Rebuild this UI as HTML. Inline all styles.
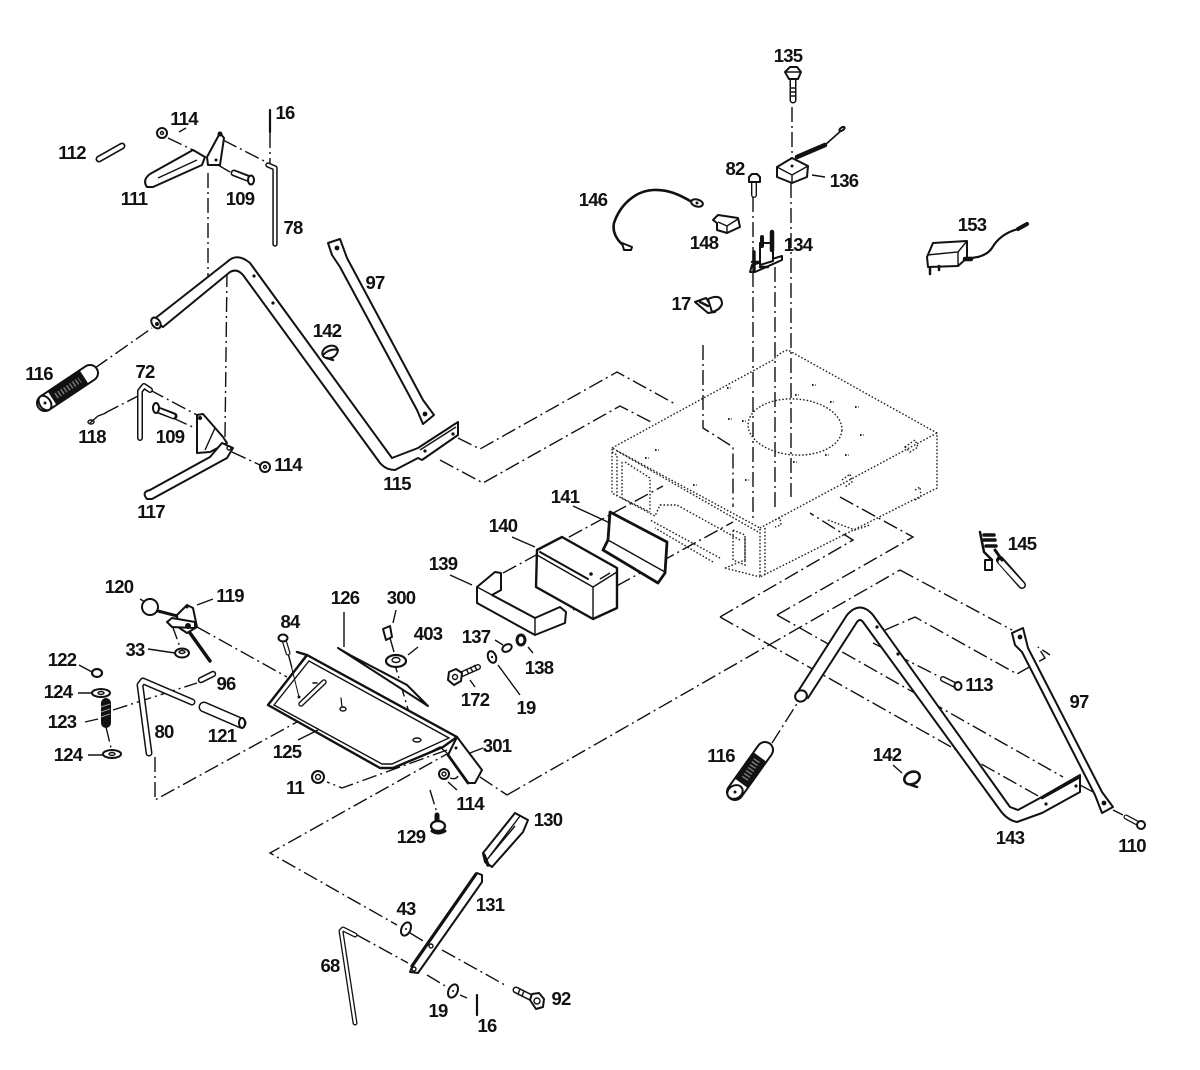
<!DOCTYPE html>
<html><head><meta charset="utf-8"><style>
html,body{margin:0;padding:0;background:#fff}
svg{display:block}
text{font-family:"Liberation Sans Narrow","Liberation Sans",sans-serif;font-weight:700;font-size:18.5px;letter-spacing:-.8px;fill:#111;text-anchor:middle}
.d{fill:none;stroke:#111;stroke-width:1.4;stroke-dasharray:15 4 2 4}
.o{fill:none;stroke:#222;stroke-width:1.4;stroke-dasharray:1.6 1.9}
.p{fill:#fff;stroke:#111;stroke-width:2;stroke-linejoin:round}
.n{fill:none;stroke:#111;stroke-width:1.4}
.k{fill:none;stroke:#111;stroke-linecap:round;stroke-linejoin:round}
.w{fill:none;stroke:#fff;stroke-linecap:round;stroke-linejoin:round}
.b{fill:#111;stroke:none}
</style></head><body>
<svg width="1200" height="1070" viewBox="0 0 1200 1070" xmlns="http://www.w3.org/2000/svg">
<rect width="1200" height="1070" fill="#fff"/>
<!-- chassis -->
<g class="o">
<path d="M612 448L773 360Q780 352 788 350L937 433V488L760 577V528L612 448V493L655 516L660 505L677 505L740 540"/>
<path d="M617 451L760 533M937 433L760 528M765 528V575M612 452L617 455V498M622 462V498L650 512M625 462L650 478L650 510"/>
<path d="M745 538V560L725 568M733 530L745 535V565L733 560ZM725 568L760 577"/>
<path d="M720 558L650 520M713 562L655 528"/>
<path d="M828 520L855 530L870 525"/>
<ellipse cx="795" cy="427" rx="47" ry="28" transform="rotate(4 795 427)"/>
<path d="M905 447L915 440L918 447L910 452ZM842 480L850 474L852 482L845 487M915 490L920 487L921 497L915 500M775 520L780 518L781 525L775 527"/>
</g>
<g class="o" style="stroke-width:2">
<path d="M728 419h4M742 421h4M727 388h4M812 385h4M795 395h4M830 402h4M855 407h4M825 455h4M860 435h4M793 462h4M745 480h4M845 455h4M693 485h4M645 458h4M655 450h4"/>
</g>
<!-- dash-dot connectors -->
<g class="d">
<path d="M458 438L480 449L617 372L677 405"/>
<path d="M440 460L483 483L620 406L653 423"/>
<path d="M703 345V428L733 447V507"/>
<path d="M753 197V518M775 267V507M792 107V158M791 183V497"/>
<path d="M503 573L663 486M573 610L733 522"/>
<path d="M720 617L853 540L810 513M777 615L913 537L840 497"/>
<path d="M900 570L1012 630M720 617L1040 797M777 615L1063 777"/>
<path d="M507 795L900 570M480 777L507 795"/>
<path d="M885 630L915 617L1017 674L1045 658L1038 647L1050 655M873 643L940 677"/>
<path d="M1080 785L1095 793M1113 810L1123 815M772 743L798 702"/>
<path d="M208 173V277M227 272L225 437M223 140L268 163M270 133V163M168 138L193 150M218 165L230 172M95 368L152 328M105 413L140 395M150 390L197 415M173 418L195 428M232 452L260 465"/>
<path d="M155 757V800L337 700M113 710L197 683M197 627L287 677M393 658L417 740M447 750L342 788L327 782"/>
<path d="M288 653L300 698M454 750L270 853L397 925M410 933L425 942M442 950L505 985M357 935L408 963M427 975L447 987M460 995L467 998M430 790L437 813M106 727L111 748M172 625L180 647"/>
</g>
<!-- lever 111 -->
<path class="p" d="M147 187Q142 180 150 174L193 150L205 157L202 165L153 187Z"/>
<path class="n" d="M158 178L197 160"/>
<path class="p" d="M220 133L207 157L208 165L220 165L224 138Z"/><circle class="b" cx="220" cy="134" r="2.5"/><circle class="b" cx="216" cy="160" r="1.5"/>
<g class="k"><path d="M99 159L122 146" stroke-width="7"/></g><g class="w"><path d="M99 159L122 146" stroke-width="3.6"/></g>
<ellipse class="p" cx="162" cy="133" rx="5" ry="5"/><circle class="n" cx="162" cy="133" r="1.5"/>
<path class="k" d="M234 173L250 179" stroke-width="7"/><path class="w" d="M234 173L249 179" stroke-width="3.6"/><ellipse class="p" cx="251" cy="180" rx="3" ry="4.5"/>
<path class="k" d="M270 110V132" stroke-width="2.2"/>
<path class="k" d="M268 165L275 168V244" stroke-width="5.4"/><path class="w" d="M268 165L275 168V244" stroke-width="2.4"/>
<!-- tube 115 -->
<path class="p" d="M153 320L227 262Q237 252 250 263L392 458L418 448L458 422V435L422 460L418 458L395 470Q386 470 380 463L243 275Q237 268 230 272L163 327Z"/>
<ellipse class="p" cx="156" cy="323" rx="4" ry="6" transform="rotate(-35 156 323)"/><circle class="b" cx="157" cy="324" r="2"/>
<path class="n" d="M420 450L456 427"/><circle class="b" cx="254" cy="276" r="1.6"/><circle class="b" cx="273" cy="303" r="1.6"/><circle class="b" cx="453" cy="434" r="1.6"/><circle class="b" cx="425" cy="451" r="1.6"/>
<!-- 97 left -->
<path class="p" d="M328 243L340 239L347 258L423 400L434 415L423 424L417 410L340 267L332 255Z"/><circle class="b" cx="337" cy="248" r="2.4"/><circle class="b" cx="425" cy="414" r="2.4"/>
<!-- 142 left -->
<ellipse class="p" cx="330" cy="352" rx="8" ry="6" transform="rotate(-25 330 352)"/><path class="k" d="M323 355Q330 348 338 350" stroke-width="2"/><path class="k" d="M327 358L333 360" stroke-width="2.5"/>
<!-- 116 left grip -->
<path class="k" d="M45 403L90 373" stroke-width="18"/><path class="w" d="M45 403L90 373" stroke-width="14"/>
<path d="M52 398L84 377" fill="none" stroke="#111" stroke-width="16"/><path d="M56 396L80 380" fill="none" stroke="#777" stroke-width="6" stroke-dasharray="1.5 2"/>
<ellipse class="p" cx="45" cy="403" rx="5.5" ry="8" transform="rotate(-35 45 403)"/><circle class="b" cx="45" cy="403" r="1.5"/>
<!-- 72, 118, 109, 117 -->
<path class="k" d="M140 438V391L144 386L150 390" stroke-width="6"/><path class="w" d="M140 438V391L144 386L150 390" stroke-width="3"/>
<path class="n" d="M90 423L98 416L106 413"/><ellipse class="n" cx="91" cy="422" rx="3" ry="2"/>
<path class="k" d="M158 410L174 416" stroke-width="7"/><path class="w" d="M158 410L173 416" stroke-width="3.6"/><ellipse class="p" cx="156" cy="408" rx="3" ry="5"/>
<path class="p" d="M197 415L203 414L223 437L227 443L210 452L197 453Z"/><circle class="b" cx="200" cy="418" r="2"/><path class="n" d="M215 428L205 450"/>
<path class="p" d="M147 499Q141 492 150 490L210 457L222 443L233 448L227 458L152 499Z"/><circle class="n" cx="229" cy="448" r="2"/>
<ellipse class="p" cx="265" cy="467" rx="5" ry="5"/><circle class="n" cx="265" cy="467" r="1.5"/>
<!-- 135 -->
<path class="k" d="M793 80V100" stroke-width="7"/><path class="w" d="M793 80V100" stroke-width="4"/><path class="p" d="M785 72L790 67H797L801 72L798 79H789Z"/><path class="n" d="M786 72h14M790 88h5M790 92h5M790 96h5"/>
<!-- 136 -->
<path class="k" d="M797 157L825 145" stroke-width="4.5"/><path class="k" d="M825 145L843 129" stroke-width="1.6"/><ellipse class="p" cx="842" cy="129" rx="3" ry="1.5" transform="rotate(-35 842 129)"/>
<path class="p" d="M777 167L792 158L808 166L807 177L792 183L777 177Z"/><path class="n" d="M777 167L792 175L808 166M792 175V183"/><circle class="b" cx="792" cy="166" r="1.5"/>
<!-- 82 -->
<path class="k" d="M754 182V195" stroke-width="6"/><path class="w" d="M754 182V195" stroke-width="3.2"/><path class="p" d="M749 177L752 174H757L760 177V182H749Z"/>
<!-- 146 -->
<path class="k" d="M692 202C680 195 668 189 653 190C635 191 620 205 614 223C612 232 617 240 623 245" stroke-width="2.6"/>
<ellipse class="p" cx="697" cy="203" rx="6" ry="3.5" transform="rotate(15 697 203)"/><circle class="b" cx="697" cy="203" r="1.5"/>
<path class="p" d="M622 243L632 247L631 250L624 250Z"/>
<!-- 148 -->
<path class="p" d="M713 220L718 215L738 218L740 227L727 233L717 230L717 223Z"/><path class="n" d="M718 222L727 226L738 219M727 226V233"/>
<!-- 134 -->
<path class="p" d="M750 272L752 265L782 256L782 260L755 272Z"/>
<path class="p" d="M760 243H773V261L760 265Z"/><path class="k" d="M772 232V250" stroke-width="4.5"/><path class="k" d="M762 237V246" stroke-width="4"/><path class="k" d="M754 252V270" stroke-width="3.4"/><path class="k" d="M752 262h8M760 267h8" stroke-width="2.4"/>
<!-- 17 -->
<path class="p" d="M695 302L706 298L715 312L708 313Z"/><path class="p" d="M708 299Q722 293 722 304Q720 310 712 312Z"/><path class="k" d="M700 302L708 306" stroke-width="2.4"/>
<!-- 153 -->
<path class="k" d="M968 258Q985 258 992 248Q1000 234 1018 229" stroke-width="2.2"/><path class="k" d="M1018 229L1027 224" stroke-width="4"/>
<path class="p" d="M927 257L933 243L967 241V258L958 266L928 267Z"/><path class="n" d="M927 255L958 252L967 241M958 252V266"/><path class="k" d="M930 268V274M939 266V270" stroke-width="2.5"/><path class="k" d="M965 259h6" stroke-width="4.5"/>
<!-- 145 -->
<path class="k" d="M1000 560L1022 585" stroke-width="8"/><path class="w" d="M1001 562L1022 585" stroke-width="5"/>
<path class="k" d="M980 532L984 552L992 560" stroke-width="2.5"/><path class="k" d="M984 535h10M984 540h11M986 546h10" stroke-width="3.5"/><path class="k" d="M995 550L1002 560" stroke-width="3"/><rect class="p" x="985" y="560" width="7" height="10"/>
<!-- 139 -->
<path class="p" d="M477 587L495 572L501 573V590L492 595L535 618L560 607L566 612L565 623L535 635L477 603Z"/><path class="n" d="M477 587L535 618V635"/>
<!-- 140 -->
<path class="p" d="M537 550L562 537L617 568V608L593 619L536 587Z" style="stroke-width:2.4"/><path class="n" d="M537 555L593 587L617 572M593 587V619M600 579L610 573"/><path class="k" d="M540 552L588 579" stroke-width="2"/><circle class="b" cx="591" cy="574" r="1.8"/>
<!-- 141 -->
<path class="p" d="M610 512L667 542L665 573L658 583L603 550L608 540Z" style="stroke-width:2.8"/><path class="n" d="M608 540L665 572"/>
<!-- 120/119 -->
<circle class="p" cx="150" cy="607" r="8"/><path class="k" d="M158 611L185 618" stroke-width="3"/>
<path class="k" d="M190 633L210 661" stroke-width="3.5"/>
<path class="p" d="M177 615L187 605L193 608L197 627L187 633L178 627Z"/><path class="p" d="M167 622L172 618L195 622L195 628L172 627Z"/><circle class="b" cx="188" cy="626" r="3"/><circle class="b" cx="187" cy="607" r="1.5"/>
<ellipse class="p" cx="182" cy="653" rx="7" ry="4.5"/><ellipse class="n" cx="182" cy="652" rx="3" ry="1.5"/>
<!-- 122-124 -->
<ellipse class="p" cx="97" cy="673" rx="5" ry="4" style="stroke-width:2.2"/>
<ellipse class="p" cx="101" cy="693" rx="9" ry="4"/><ellipse class="n" cx="101" cy="693" rx="3" ry="1.5"/>
<path d="M106 703L106 723" stroke="#111" stroke-width="10" stroke-linecap="round" fill="none"/><path d="M101 707L110 704M101 712L110 709M101 717L110 714" stroke="#999" stroke-width="1" fill="none"/>
<ellipse class="p" cx="112" cy="754" rx="9" ry="4"/><ellipse class="n" cx="112" cy="754" rx="3" ry="1.5"/>
<!-- 96, 80, 121 -->
<path class="k" d="M201 680L213 674" stroke-width="6.5"/><path class="w" d="M201 680L213 674" stroke-width="3.4"/>
<path class="k" d="M149 753L140 685L143 681L192 702" stroke-width="7"/><path class="w" d="M149 753L140 685L143 681L192 702" stroke-width="4"/>
<path class="k" d="M204 707L241 723" stroke-width="11"/><path class="w" d="M204 707L241 723" stroke-width="8"/><ellipse class="p" cx="242" cy="723" rx="3" ry="5"/>
<!-- 125 pan -->
<path class="p" d="M268 705L307 655L457 737L443 747L393 768L380 768Z" style="stroke-width:2.4"/>
<path class="n" d="M274 705L309 661L449 738L392 764L382 764Z"/>
<path class="k" d="M297 652L307 655L300 664" stroke-width="2.4"/>
<path class="k" d="M301 704L324 682" stroke-width="5.5"/><path class="w" d="M301 704L324 682" stroke-width="2.8"/>
<ellipse class="n" cx="343" cy="709" rx="3" ry="2"/><path class="k" d="M341 698L342 707" stroke-width="1.2"/><ellipse class="n" cx="417" cy="740" rx="4" ry="2"/>
<circle class="b" cx="299" cy="697" r="1.5"/><path class="k" d="M313 683h4" stroke-width="1.5"/>
<path class="k" d="M288 653L299 697" stroke-width="1"/>
<!-- 84 -->
<path class="k" d="M284 640L288 653" stroke-width="5"/><path class="w" d="M284 640L288 653" stroke-width="2.6"/><ellipse class="p" cx="283" cy="638" rx="4.5" ry="3.5"/>
<!-- 126 -->
<path class="p" d="M338 648L428 706L407 685L350 655Z"/>
<!-- 300, 403 -->
<path class="p" d="M383 629L390 626L392 637L386 640Z"/><path class="n" d="M390 638L394 652"/>
<ellipse class="p" cx="396" cy="661" rx="10" ry="6" style="stroke-width:2.2"/><ellipse class="n" cx="396" cy="660" rx="4" ry="2.5"/>
<!-- 301 -->
<path class="p" d="M457 737L482 770L475 783L468 783L448 755Z"/><path class="k" d="M448 755L468 783" stroke-width="2.8"/><circle class="b" cx="456" cy="748" r="1.5"/><path class="n" d="M432 751L440 747L447 753"/>
<!-- nuts -->
<ellipse class="p" cx="444" cy="774" rx="5" ry="5"/><circle class="n" cx="444" cy="774" r="2"/>
<path class="n" d="M450 778Q456 780 458 776"/>
<ellipse class="p" cx="318" cy="777" rx="6" ry="6"/><circle class="n" cx="318" cy="777" r="2.5"/>
<!-- 129 -->
<path class="k" d="M437 815V821" stroke-width="5"/><ellipse class="p" cx="438" cy="826" rx="7" ry="5" style="stroke-width:2.2"/><path class="k" d="M432 831Q438 835 445 831" stroke-width="3"/>
<!-- 137 138 19 172 -->
<ellipse class="p" cx="507" cy="648" rx="5" ry="3.5" transform="rotate(-30 507 648)"/>
<ellipse class="p" cx="521" cy="640" rx="4" ry="5" style="stroke-width:3"/>
<ellipse class="p" cx="492" cy="657" rx="4" ry="6" transform="rotate(-20 492 657)"/><circle class="b" cx="492" cy="657" r="1.2"/>
<path class="k" d="M460 675L478 667" stroke-width="6"/><path class="w" d="M460 675L478 667" stroke-width="3.2"/><path class="n" d="M466 669l3 5M470 667l3 5M474 665l3 5"/><path class="p" d="M448 680L449 672L456 669L462 673L461 681L454 685Z"/><circle class="n" cx="455" cy="677" r="2.5"/>
<!-- tube 143 -->
<path class="p" d="M797 693L847 615Q860 600 873 615L1010 807L1018 810L1040 798L1080 775V792L1042 813L1017 822Q1007 820 1000 810L863 622Q860 618 857 622L808 698Z"/>
<ellipse class="p" cx="801" cy="696" rx="6" ry="5.5" transform="rotate(-30 801 696)"/>
<path class="k" d="M1042 798L1078 778" stroke-width="2.6"/><circle class="b" cx="877" cy="627" r="1.6"/><circle class="b" cx="898" cy="654" r="1.6"/><circle class="b" cx="1076" cy="786" r="1.6"/><circle class="b" cx="1046" cy="804" r="1.6"/>
<!-- 97 right -->
<path class="p" d="M1012 633L1023 628L1028 648L1102 792L1113 807L1102 813L1095 795L1022 652L1015 645Z"/><circle class="b" cx="1020" cy="637" r="2.4"/><circle class="b" cx="1104" cy="803" r="2.4"/>
<!-- 113 110 -->
<path class="k" d="M943 679L957 686" stroke-width="6"/><path class="w" d="M943 679L957 686" stroke-width="3.2"/><ellipse class="p" cx="958" cy="686" rx="3.5" ry="4"/>
<path class="k" d="M1126 817L1139 824" stroke-width="5"/><path class="w" d="M1126 817L1139 824" stroke-width="2.6"/><circle class="p" cx="1141" cy="825" r="4"/>
<!-- 116 right -->
<path class="k" d="M765 750L735 792" stroke-width="18"/><path class="w" d="M765 750L735 792" stroke-width="14"/>
<path d="M760 757L741 783" fill="none" stroke="#111" stroke-width="16"/><path d="M757 760L744 780" fill="none" stroke="#777" stroke-width="7" stroke-dasharray="1.5 2"/>
<ellipse class="p" cx="735" cy="792" rx="8" ry="6.5" transform="rotate(-30 735 792)"/><circle class="b" cx="735" cy="792" r="1.5"/>
<!-- 142 right -->
<ellipse class="p" cx="912" cy="778" rx="8" ry="6" transform="rotate(-25 912 778)" style="stroke-width:2.6"/><path class="k" d="M911 785L917 787" stroke-width="2.5"/>
<!-- 130 131 -->
<path class="p" d="M483 853L515 813L528 820L523 832L492 867L485 862Z"/><path class="n" d="M489 857L520 816M485 862L515 826"/><path class="k" d="M484 855L488 865" stroke-width="3.4"/>
<path class="p" d="M412 967L477 873L482 875L482 882L418 973L410 972Z"/><path class="k" d="M412 966L476 874" stroke-width="3.2"/><circle class="n" cx="414" cy="969" r="2"/><circle class="n" cx="431" cy="946" r="2"/>
<!-- 43 19 16 68 92 -->
<ellipse class="p" cx="406" cy="929" rx="4.5" ry="7" transform="rotate(25 406 929)"/><circle class="b" cx="406" cy="929" r="1"/>
<ellipse class="p" cx="453" cy="991" rx="4.5" ry="7" transform="rotate(25 453 991)"/><circle class="b" cx="453" cy="991" r="1"/>
<path class="k" d="M477 995V1015" stroke-width="2.2"/>
<path class="k" d="M355 1023L341 931L343 929L355 935" stroke-width="5"/><path class="w" d="M355 1023L341 931L343 929L355 935" stroke-width="2.4"/>
<path class="k" d="M516 990L532 998" stroke-width="7"/><path class="w" d="M516 990L532 998" stroke-width="4"/><path class="n" d="M520 989l-2 5M524 991l-2 5"/>
<path class="p" d="M530 1000L532 994L539 993L544 999L543 1007L536 1009Z"/><circle class="n" cx="537" cy="1001" r="3"/>
<!-- leaders -->
<g class="n">
<path d="M197 605L213 599M148 649L175 653M79 665L92 672M78 693L92 693M85 722L98 719M88 755L103 755M298 740L318 730M344 612V647M396 610L393 623M418 647L408 655M495 640L503 645M528 647L533 653M498 665L520 695M470 680L475 687M470 753L483 748M448 782L457 790M573 506L610 523M512 537L535 547M450 575L472 585M812 175L825 177M140 599L145 602M893 765L902 773M179 132L186 128"/>
</g>
<!-- labels -->
<text x="788" y="62">135</text><text x="285" y="119">16</text><text x="184" y="125">114</text><text x="72" y="159">112</text><text x="134" y="205">111</text><text x="240" y="205">109</text><text x="293" y="234">78</text>
<text x="844" y="187">136</text><text x="735" y="175">82</text><text x="593" y="206">146</text><text x="704" y="249">148</text><text x="798" y="251">134</text><text x="972" y="231">153</text>
<text x="375" y="289">97</text><text x="681" y="310">17</text><text x="327" y="337">142</text><text x="39" y="380">116</text><text x="145" y="378">72</text><text x="92" y="443">118</text><text x="170" y="443">109</text><text x="288" y="471">114</text><text x="397" y="490">115</text><text x="151" y="518">117</text>
<text x="565" y="503">141</text><text x="503" y="532">140</text><text x="443" y="570">139</text><text x="1022" y="550">145</text><text x="119" y="593">120</text><text x="230" y="602">119</text><text x="345" y="604">126</text><text x="401" y="604">300</text><text x="290" y="628">84</text><text x="428" y="640">403</text><text x="476" y="643">137</text>
<text x="135" y="656">33</text><text x="539" y="674">138</text><text x="62" y="666">122</text><text x="58" y="698">124</text><text x="226" y="690">96</text><text x="475" y="706">172</text><text x="526" y="714">19</text><text x="62" y="728">123</text><text x="164" y="738">80</text><text x="222" y="742">121</text><text x="287" y="758">125</text><text x="497" y="752">301</text><text x="68" y="761">124</text>
<text x="979" y="691">113</text><text x="1079" y="708">97</text><text x="721" y="762">116</text><text x="887" y="761">142</text><text x="295" y="794">11</text><text x="470" y="810">114</text><text x="548" y="826">130</text><text x="411" y="843">129</text><text x="1010" y="844">143</text><text x="1132" y="852">110</text>
<text x="490" y="911">131</text><text x="406" y="915">43</text><text x="330" y="972">68</text><text x="561" y="1005">92</text><text x="438" y="1017">19</text><text x="487" y="1032">16</text>
</svg>
</body></html>
